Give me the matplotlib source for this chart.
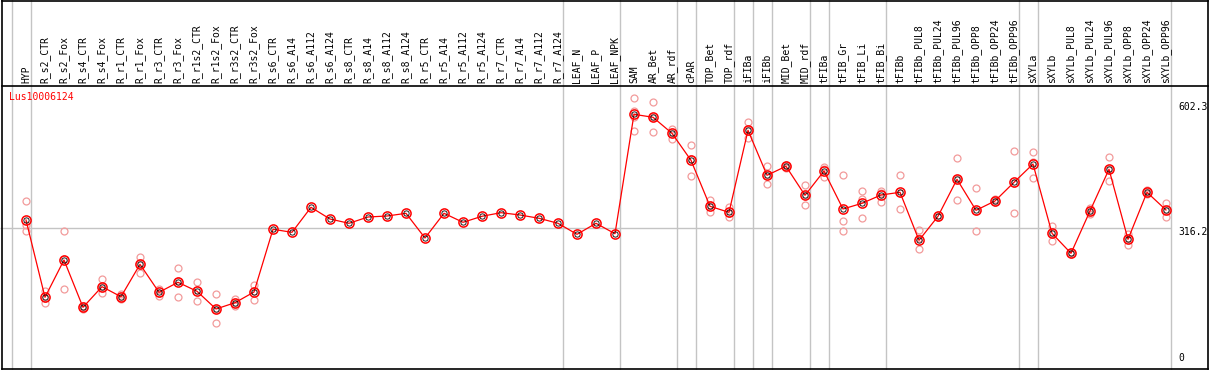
import matplotlib
matplotlib.use("Agg")
import matplotlib.pyplot as plt
from matplotlib.lines import Line2D
from matplotlib.transforms import blended_transform_factory

# Samples (columns), left to right
samples = [
    "HYP", "R_s2_CTR", "R_s2_Fox", "R_s4_CTR", "R_s4_Fox", "R_r1_CTR", "R_r1_Fox",
    "R_r3_CTR", "R_r3_Fox", "R_r1s2_CTR", "R_r1s2_Fox", "R_r3s2_CTR", "R_r3s2_Fox",
    "R_s6_CTR", "R_s6_A14", "R_s6_A112", "R_s6_A124", "R_s8_CTR", "R_s8_A14",
    "R_s8_A112", "R_s8_A124", "R_r5_CTR", "R_r5_A14", "R_r5_A112", "R_r5_A124",
    "R_r7_CTR", "R_r7_A14", "R_r7_A112", "R_r7_A124", "LEAF_N", "LEAF_P", "LEAF_NPK",
    "SAM", "AR_Bet", "AR_rdf", "cPAR", "TOP_Bet", "TOP_rdf", "iFIBa", "iFIBb",
    "MID_Bet", "MID_rdf", "tFIBa", "tFIB_Gr", "tFIB_Li", "tFIB_Bi", "tFIBb",
    "tFIBb_PUL8", "tFIBb_PUL24", "tFIBb_PUL96", "tFIBb_OPP8", "tFIBb_OPP24",
    "tFIBb_OPP96", "sXYLa", "sXYLb", "sXYLb_PUL8", "sXYLb_PUL24", "sXYLb_PUL96",
    "sXYLb_OPP8", "sXYLb_OPP24", "sXYLb_OPP96",
]

# mean expression per sample
means = [
    334.4, 164.7, 246.6, 142.7, 188.0, 166.0, 237.1, 175.7, 197.6, 177.9, 139.0,
    152.8, 176.3, 314.0, 307.4, 362.3, 336.6, 327.2, 341.0, 343.2, 349.1, 294.9,
    349.1, 329.4, 342.6, 350.5, 345.4, 338.2, 327.2, 303.0, 327.2, 304.3, 566.5,
    560.0, 524.8, 465.5, 364.5, 351.3, 531.4, 432.6, 452.4, 388.7, 442.0, 358.6,
    371.1, 389.3, 395.3, 289.8, 342.6, 423.8, 355.7, 376.2, 417.2, 457.4, 305.2,
    261.3, 354.2, 445.8, 292.0, 395.3, 356.4,
]

# replicate values (empty = single sample)
replicates = [
    [376.2, 323.4, 310.3], [178.5, 152.8, 163.2], [309.6, 182.2, 247.9],
    [140.0, 143.0, 145.0], [204.2, 173.5, 186.2], [171.9, 160.9, 165.3],
    [253.8, 218.7, 238.9], [183.6, 168.2, 175.2], [228.4, 164.7, 199.8],
    [197.6, 155.9, 180.0], [171.3, 107.6, 138.1], [160.3, 145.6, 152.6],
    [191.7, 158.1, 179.2],
    [], [], [], [], [], [], [], [], [], [], [], [], [], [], [], [], [], [], [],
    [602.3, 574.5, 560.0, 530.5], [592.9, 527.0, 560.0], [534.9, 513.0, 524.8],
    [498.5, 430.4, 467.7], [378.3, 352.7, 366.7], [362.3, 341.0, 349.5],
    [549.0, 513.8, 531.4], [452.4, 412.8, 432.6], [456.0, 452.0, 448.0],
    [410.6, 366.7, 388.7], [451.5, 428.2, 446.4], [433.2, 332.2, 310.3],
    [398.1, 379.9, 338.8], [398.8, 374.6, 394.4], [433.2, 357.9, 394.4],
    [312.5, 270.1, 294.9], [346.0, 342.0, 340.0], [469.9, 377.7, 423.8],
    [404.0, 309.6, 353.5], [380.0, 376.0, 373.0], [486.0, 349.1, 416.3],
    [483.8, 426.0, 462.5], [321.3, 289.0, 305.2], [259.0, 261.0, 264.0],
    [361.4, 346.9, 354.2], [472.1, 419.4, 445.8], [303.0, 279.5, 292.0],
    [400.3, 395.0, 391.0], [371.8, 341.7, 356.4],
]

# group separators come after these column indices
group_ends = [-1, 0, 28, 31, 34, 35, 37, 38, 39, 41, 42, 45, 52, 53, 60]

gene = "Lus10006124"
y_ticks = [602.3, 316.2, 0]

W, H = 1209, 370
fig = plt.figure(figsize=(W / 100, H / 100), dpi=100)
ax = fig.add_axes([0, 0, 1, 1])
ax.set_xlim(-26 / 19, (W - 26) / 19)
ax.set_ylim(316.2 - (H - 228.3) * 2.196, 316.2 + 228.3 * 2.196)
ax.axis("off")

mono = "DejaVu Sans Mono"
red = "#ff0000"
rep_col = "#f29b9b"
grid_col = "#c4c4c4"

# group separators and reference line
for k in group_ends:
    ax.axvline(k + 0.24, color=grid_col, lw=1, zorder=1)
ax.hlines(316.2, ax.get_xlim()[0], group_ends[-1] + 0.24, color=grid_col, lw=1, zorder=1)

# replicates
for i, reps in enumerate(replicates):
    if reps:
        ax.plot([i] * len(reps), reps, ls="none", marker="o", ms=5.0,
                mfc="none", mec=rep_col, mew=0.9, zorder=2)

# mean line
xs = list(range(len(samples)))
ax.plot(xs, means, color=red, lw=0.9, zorder=3)
ax.plot(xs, means, ls="none", marker="o", ms=6.6, mfc="none", mec=red, mew=1.1, zorder=4)
ax.plot(xs, means, ls="none", marker="o", ms=3.8, mfc="none", mec="black", mew=0.6, zorder=5)

# column labels
trans = blended_transform_factory(ax.transData, fig.transFigure)
for i, name in enumerate(samples):
    ax.text(i, 1 - 83 / H, name, transform=trans, rotation=90, rotation_mode="anchor",
            ha="left", va="center", fontsize=7, family=mono, color="black")

# right-hand value labels
offsets = {602.3: -9, 316.2: -4, 0: 14}
for v in y_ticks:
    ax.annotate(f"{v:g}", xy=(1178 / W, v), xycoords=("figure fraction", "data"),
                xytext=(0, offsets[v]), textcoords="offset pixels",
                ha="left", va="center", fontsize=7, family=mono, color="black")

# gene name
fig.text(9 / W, 1 - 97 / H, gene, color=red, fontsize=7, family=mono, va="center", ha="left")

# frame and header separator
def hline(y, x0=1.5, x1=1208):
    fig.add_artist(Line2D([x0 / W, x1 / W], [1 - y / H, 1 - y / H], color="black", lw=1.2))

def vline(x, y0=0, y1=368.5):
    fig.add_artist(Line2D([x / W, x / W], [1 - y0 / H, 1 - y1 / H], color="black", lw=1.2))

hline(0.5)
hline(85.5)
hline(368.5)
vline(1.5)
vline(1207.8)

fig.savefig("out.png", dpi=100)
